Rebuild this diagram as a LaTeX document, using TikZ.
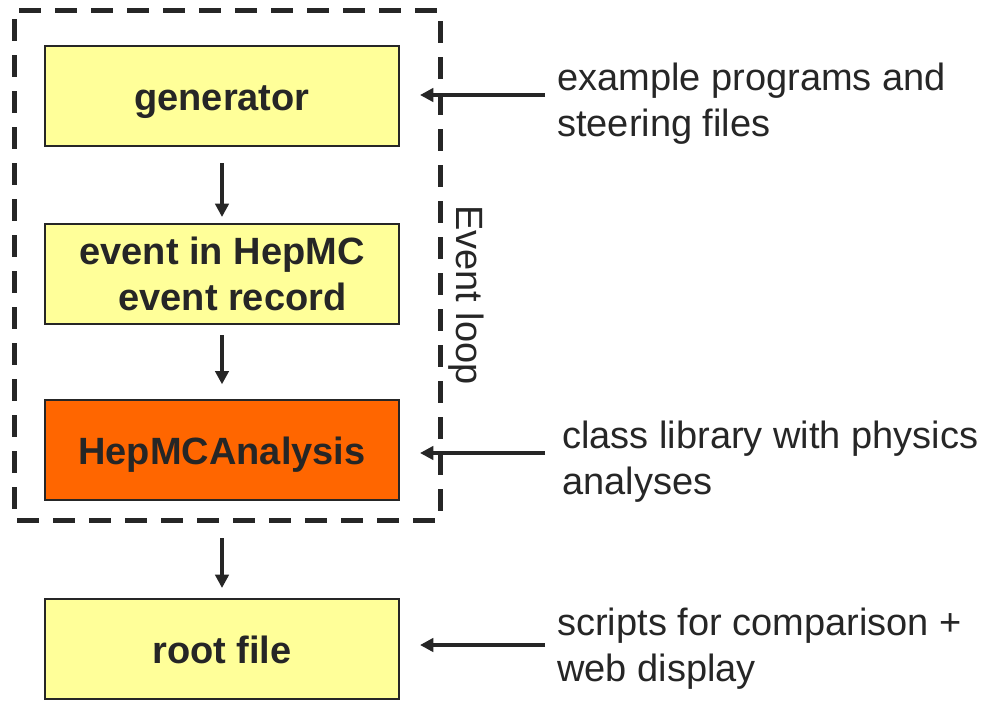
\documentclass[tikz,border=0pt]{standalone}
\usepackage{fontspec}
\setmainfont{Liberation Sans}
\usetikzlibrary{arrows.meta}
\definecolor{boxyellow}{HTML}{FFFF99}
\definecolor{boxorange}{HTML}{FF6600}
\definecolor{ink}{HTML}{262626}
\begin{document}
\begin{tikzpicture}[x=0.75pt,y=-0.75pt,
  stagebox/.style={draw=ink,line width=1.5pt,fill=boxyellow,minimum width=354*0.75pt,minimum height=100*0.75pt,inner sep=0pt,font=\fontsize{28.5}{34.5}\selectfont\bfseries,text=ink,align=center},
  oneline/.style={text height=23pt,text depth=2pt},
  flow/.style={draw=ink,line width=3pt,-{Triangle[width=10pt,length=10pt]}},
  note/.style={anchor=base west,inner sep=0pt,font=\fontsize{28.5}{34.5}\selectfont,text=ink,align=left},
  loopframe/.style={draw=ink,line width=3.75pt,dash pattern=on 16.5pt off 10.5pt}]
\useasboundingbox (0,0) rectangle (981,700);
% boxes
\node[stagebox,oneline] (gen) at (222,96) {generator};
\node[stagebox] (evt) at (222,274) {event in HepMC\\\hspace*{0.55em}event record};
\node[stagebox,oneline,fill=boxorange] (ana) at (222,450) {HepMCAnalysis};
\node[stagebox,oneline] (root) at (222,649) {root file};
% event loop frame
\draw[loopframe,dash phase=-4pt] (14,10) -- (440,10) -- (440,520) -- (14,520) -- cycle;
\node[rotate=-90,font=\fontsize{28.5}{34.5}\selectfont,text=ink,inner sep=0pt] (loop) at (466,295) {Event loop};
% vertical flow
\draw[flow,shorten <=12pt,shorten >=4.5pt] (gen.south) -- (evt.north);
\draw[flow,shorten <=7.5pt,shorten >=11pt] (evt.south) -- (ana.north);
\draw[flow,shorten <=28pt,shorten >=7.5pt] (ana.south) -- (root.north);
% notes
\node[note] (n1) at (557,136) {example programs and\\steering files};
\node[note] (n2) at (562,494) {class library with physics\\analyses};
\node[note] (n3) at (557,681) {scripts for comparison +\\web display};
\coordinate (a1s) at (545,95);  \coordinate (a1e) at (420,95);
\coordinate (a2s) at (545,453); \coordinate (a2e) at (420,453);
\coordinate (a3s) at (545,645); \coordinate (a3e) at (420,645);
\draw[flow] (a1s) -- (a1e);
\draw[flow] (a2s) -- (a2e);
\draw[flow] (a3s) -- (a3e);
\end{tikzpicture}
\end{document}
